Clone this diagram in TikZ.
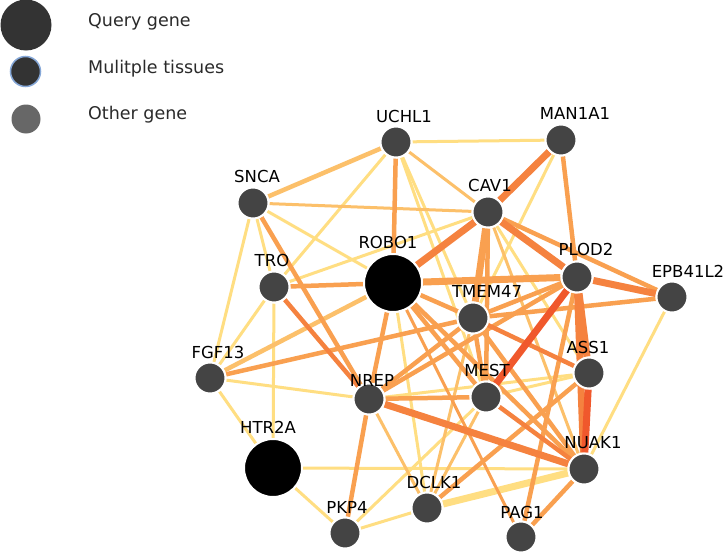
\documentclass[tikz,border=0pt]{standalone}
\usepackage{fontspec}
\setmainfont{DejaVu Sans}
\usetikzlibrary{backgrounds}
\definecolor{cY}{HTML}{FFDE82}
\definecolor{cLO}{HTML}{FCC06A}
\definecolor{cO}{HTML}{F9A050}
\definecolor{cDO}{HTML}{F5823F}
\definecolor{cR}{HTML}{F0582C}
\definecolor{nodegray}{HTML}{444444}
\definecolor{legdark}{HTML}{333333}
\definecolor{leggray}{HTML}{676767}
\definecolor{legring}{HTML}{86A8D8}
\definecolor{legtext}{HTML}{2A2A2A}
\begin{document}
\begin{tikzpicture}[x=1pt,y=-1pt,
  gene/.style={circle,fill=nodegray,draw=white,line width=2pt,minimum size=31pt,inner sep=0pt},
  query/.style={gene,fill=black,minimum size=58pt},
  lbl/.style={font=\fontsize{16.5}{16.5}\selectfont,anchor=base,inner sep=0pt,text=black},
  legtxt/.style={font=\fontsize{17.5}{17.5}\selectfont,anchor=base west,inner sep=0pt,text=legtext},
  ey/.style={draw=cY},
  elo/.style={draw=cLO},
  eo/.style={draw=cO},
  edo/.style={draw=cDO},
  er/.style={draw=cR},
  ewa/.style={line width=3pt},
  ewb/.style={line width=4.5pt},
  ewc/.style={line width=7pt}]
\useasboundingbox (0,0) rectangle (726,554);

% legend
\node[circle,fill=legdark,minimum size=51pt,inner sep=0pt] (legq) at (26,25) {};
\node[circle,fill=legdark,draw=legring,line width=1.5pt,minimum size=30pt,inner sep=0pt] (legm) at (25.5,71.5) {};
\node[circle,fill=leggray,minimum size=29pt,inner sep=0pt] (lego) at (26,119) {};
\node[legtxt] (legqt) at (88,27) {Query gene};
\node[legtxt] (legmt) at (88,73) {Mulitple tissues};
\node[legtxt] (legot) at (88,119) {Other gene};

% genes
\node[gene] (UCHL1) at (396,142) {};
\node[gene] (MAN1A1) at (561,140) {};
\node[gene] (SNCA) at (253,203) {};
\node[gene] (CAV1) at (488,212) {};
\node[gene] (TRO) at (274,287) {};
\node[query] (ROBO1) at (393,283) {};
\node[gene] (PLOD2) at (577,277) {};
\node[gene] (EPB41L2) at (672,297) {};
\node[gene] (TMEM47) at (473,318) {};
\node[gene] (FGF13) at (210,378) {};
\node[gene] (NREP) at (369,399) {};
\node[gene] (MEST) at (486,397) {};
\node[gene] (ASS1) at (589,373) {};
\node[query] (HTR2A) at (273,468) {};
\node[gene] (NUAK1) at (584,469) {};
\node[gene] (DCLK1) at (427,508) {};
\node[gene] (PKP4) at (345,533) {};
\node[gene] (PAG1) at (521,537) {};

% labels
\node[lbl] (UCHL1-l) at (404,122) {UCHL1};
\node[lbl] (MAN1A1-l) at (575,119) {MAN1A1};
\node[lbl] (SNCA-l) at (257,182) {SNCA};
\node[lbl] (CAV1-l) at (490,191) {CAV1};
\node[lbl] (TRO-l) at (272,266) {TRO};
\node[lbl] (ROBO1-l) at (388,248) {ROBO1};
\node[lbl] (PLOD2-l) at (586,255) {PLOD2};
\node[lbl] (EPB41L2-l) at (688,277) {EPB41L2};
\node[lbl] (TMEM47-l) at (487,297) {TMEM47};
\node[lbl] (FGF13-l) at (218,358) {FGF13};
\node[lbl] (NREP-l) at (372,386) {NREP};
\node[lbl] (MEST-l) at (487,376) {MEST};
\node[lbl] (ASS1-l) at (588,353) {ASS1};
\node[lbl] (HTR2A-l) at (268,433) {HTR2A};
\node[lbl] (NUAK1-l) at (593,448) {NUAK1};
\node[lbl] (DCLK1-l) at (434,488) {DCLK1};
\node[lbl] (PKP4-l) at (347,513) {PKP4};
\node[lbl] (PAG1-l) at (522,518) {PAG1};

\begin{scope}[on background layer]
\fill[white] (0,0) rectangle (726,554);
% yellow thin
\draw[ey,ewa] (UCHL1) -- (MAN1A1);
\draw[ey,ewa] (UCHL1) -- (TRO);
\draw[ey,ewa] (UCHL1) -- (TMEM47);
\draw[ey,ewa] (UCHL1) -- (MEST);
\draw[ey,ewa] (SNCA) -- (ROBO1);
\draw[ey,ewa] (SNCA) -- (TRO);
\draw[ey,ewa] (SNCA) -- (FGF13);
\draw[ey,ewa] (TRO) -- (CAV1);
\draw[ey,ewa] (TRO) -- (HTR2A);
\draw[ey,ewa] (TRO) -- (FGF13);
\draw[ey,ewa] (ROBO1) -- (DCLK1);
\draw[ey,ewa] (MAN1A1) -- (TMEM47);
\draw[ey,ewa] (CAV1) -- (ASS1);
\draw[ey,ewa] (EPB41L2) -- (NUAK1);
\draw[ey,ewa] (FGF13) -- (NREP);
\draw[ey,ewa] (FGF13) -- (HTR2A);
\draw[ey,ewa] (HTR2A) -- (NUAK1);
\draw[ey,ewa] (HTR2A) -- (PKP4);
\draw[ey,ewa] (NREP) -- (ASS1);
\draw[ey,ewa] (MEST) -- (ASS1);
\draw[ey,ewa] (MEST) -- (PKP4);
\draw[ey,ewa] (DCLK1) -- (PKP4);
\draw[ey,ewc] (NUAK1) -- (DCLK1);
% light orange
\draw[elo,ewb] (UCHL1) -- (SNCA);
\draw[elo,ewa] (UCHL1) -- (CAV1);
\draw[elo,ewa] (SNCA) -- (CAV1);
\draw[elo,ewb] (ROBO1) -- (FGF13);
\draw[elo,ewa] (CAV1) -- (NUAK1);
\draw[elo,ewa] (TMEM47) -- (DCLK1);
\draw[elo,ewa] (NREP) -- (DCLK1);
\draw[elo,ewa] (MEST) -- (DCLK1);
% orange
\draw[eo,ewb] (UCHL1) -- (ROBO1);
\draw[eo,ewb] (SNCA) -- (NREP);
\draw[eo,ewb] (TRO) -- (ROBO1);
\draw[eo,ewb] (ROBO1) -- (TMEM47);
\draw[eo,ewb] (ROBO1) -- (NREP);
\draw[eo,ewb] (ROBO1) -- (MEST);
\draw[eo,ewb] (ROBO1) -- (NUAK1);
\draw[eo,ewa] (ROBO1) -- (PAG1);
\draw[eo,ewb] (MAN1A1) -- (PLOD2);
\draw[eo,ewb] (CAV1) -- (EPB41L2);
\draw[eo,ewb] (CAV1) -- (MEST);
\draw[eo,ewb] (PLOD2) -- (TMEM47);
\draw[eo,ewb] (PLOD2) -- (PAG1);
\draw[eo,ewb] (PLOD2) -- (NREP);
\draw[eo,ewb] (TMEM47) -- (EPB41L2);
\draw[eo,ewb] (TMEM47) -- (NUAK1);
\draw[eo,ewb] (TMEM47) -- (MEST);
\draw[eo,ewb] (TMEM47) -- (NREP);
\draw[eo,ewb] (FGF13) -- (TMEM47);
\draw[eo,ewb] (NREP) -- (MEST);
\draw[eo,ewb] (NREP) -- (PKP4);
\draw[eo,ewb] (ASS1) -- (DCLK1);
\draw[eo,ewb] (NUAK1) -- (PAG1);
\draw[eo,ewc] (ROBO1) -- (PLOD2);
\draw[eo,ewc] (CAV1) -- (TMEM47);
% dark orange
\draw[edo,ewb] (TRO) -- (NREP);
\draw[edo,ewb] (TMEM47) -- (ASS1);
\draw[edo,ewb] (MEST) -- (NUAK1);
\draw[edo,ewc] (ROBO1) -- (CAV1);
\draw[edo,ewc] (MAN1A1) -- (CAV1);
\draw[edo,ewc] (CAV1) -- (PLOD2);
\draw[edo,ewc] (PLOD2) -- (EPB41L2);
\draw[edo,ewc] (PLOD2) -- (ASS1);
\draw[edo,ewc] (PLOD2) -- (NUAK1);
\draw[edo,ewc] (NREP) -- (NUAK1);
% red
\draw[er,ewc] (PLOD2) -- (MEST);
\draw[er,ewc] (ASS1) -- (NUAK1);
\end{scope}
\end{tikzpicture}
\end{document}
